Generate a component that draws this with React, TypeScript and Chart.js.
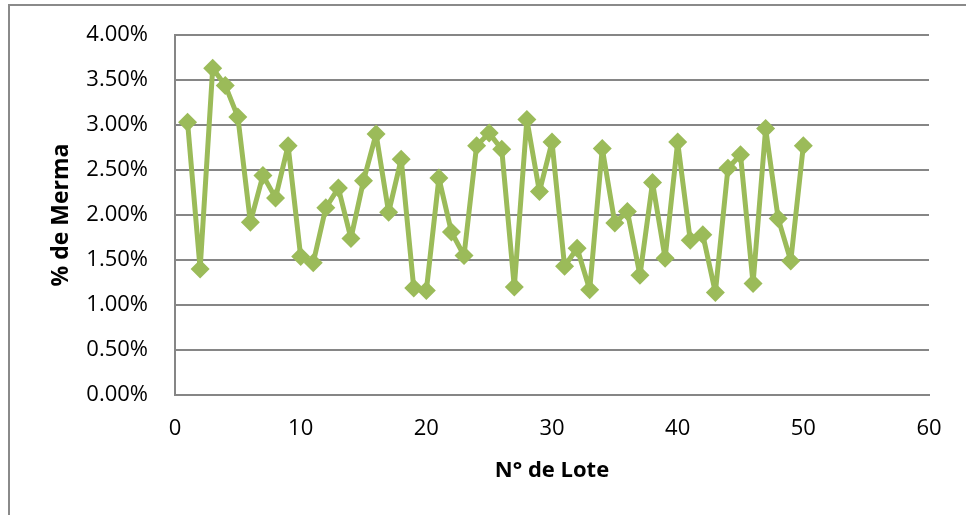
import React, { useEffect, useRef } from "react";
import { Chart, registerables } from "chart.js";

Chart.register(...registerables);

const lotes: number[] = Array.from({ length: 50 }, (_, i) => i + 1);
const merma: number[] = [
  3.03, 1.40, 3.63, 3.44, 3.09, 1.92, 2.44, 2.19, 2.77, 1.54,
  1.47, 2.08, 2.30, 1.74, 2.38, 2.90, 2.03, 2.62, 1.19, 1.16,
  2.41, 1.81, 1.55, 2.77, 2.91, 2.73, 1.20, 3.06, 2.26, 2.81,
  1.43, 1.63, 1.17, 2.74, 1.91, 2.04, 1.33, 2.36, 1.52, 2.81,
  1.72, 1.78, 1.14, 2.52, 2.67, 1.24, 2.96, 1.96, 1.49, 2.77,
];
const xTitle = "N° de Lote";
const yTitle = "% de Merma";

const GREEN = "#9BBB59";
const GRID = "#868686";
const FONT = "'Open Sans', sans-serif";

export default function App() {
  const ref = useRef<HTMLCanvasElement>(null);
  useEffect(() => {
    if (!ref.current) return;
    const data = lotes.map((x, i) => ({ x, y: merma[i] / 100 }));
    const chart = new Chart(ref.current, {
      type: "scatter",
      data: {
        datasets: [
          {
            data,
            showLine: true,
            borderColor: GREEN,
            backgroundColor: GREEN,
            borderWidth: 5,
            borderJoinStyle: "round",
            borderCapStyle: "round",
            pointStyle: "rectRot",
            pointRadius: 9.5,
            pointHoverRadius: 9.5,
            pointBackgroundColor: GREEN,
            pointBorderColor: GREEN,
            pointBorderWidth: 0,
          },
        ],
      },
      options: {
        animation: false,
        responsive: false,
        maintainAspectRatio: false,
        layout: { padding: { top: 35, right: 37, left: 9, bottom: 0 } },
        plugins: { legend: { display: false }, tooltip: { enabled: false } },
        scales: {
          x: {
            type: "linear",
            min: 0,
            max: 60,
            afterFit: (s: any) => {
              s.height = 120;
              s.paddingLeft = 0;
              s.paddingRight = 0;
            },
            ticks: {
              stepSize: 10,
              padding: 21,
              color: "#000",
              font: { family: FONT, size: 22 },
            },
            grid: { display: false, drawTicks: false },
            border: { display: true, color: GRID, width: 2 },
            title: {
              display: true,
              text: xTitle,
              color: "#000",
              font: { family: FONT, size: 22, weight: "bold" },
              padding: { top: 0, bottom: 31 },
            },
          },
          y: {
            min: 0,
            max: 0.04,
            afterFit: (s: any) => {
              s.width = 166;
              s.paddingTop = 0;
              s.paddingBottom = 0;
            },
            ticks: {
              stepSize: 0.005,
              padding: 27,
              color: "#000",
              font: { family: FONT, size: 22 },
              callback: (v: any) => (Number(v) * 100).toFixed(2) + "%",
            },
            grid: { color: GRID, lineWidth: 2, drawTicks: false },
            border: { display: true, color: GRID, width: 2 },
            title: {
              display: true,
              text: yTitle,
              color: "#000",
              font: { family: FONT, size: 23, weight: "bold" },
              padding: { top: 39, bottom: 0 },
            },
          },
        },
      },
    });
    return () => chart.destroy();
  }, []);
  return (
    <div style={{ position: "absolute", left: 0, top: 0, width: 966, height: 515, background: "#fff" }}>
      <div
        style={{
          position: "absolute",
          left: 8,
          top: 4,
          width: 966,
          height: 520,
          border: "2px solid #8a8a8a",
          boxSizing: "border-box",
        }}
      />
      <canvas ref={ref} width={966} height={515} style={{ position: "absolute", left: 0, top: 0 }} />
    </div>
  );
}
